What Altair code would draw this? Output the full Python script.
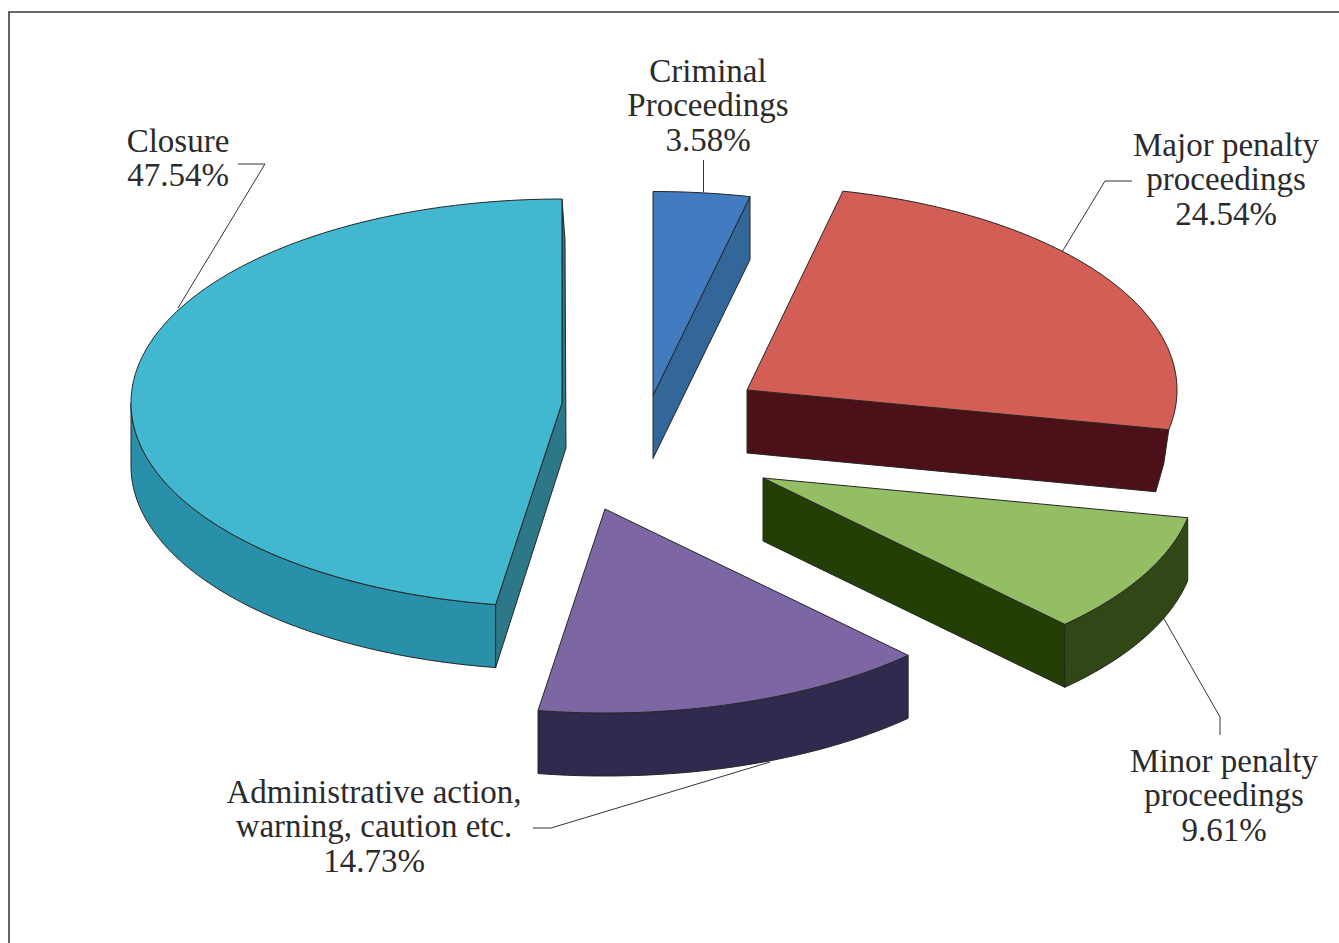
import numpy as np
import pandas as pd
import altair as alt

# Shares of the disposal outcomes, clockwise from twelve o'clock
names = ["Criminal", "Major", "Minor", "Admin", "Closure"]
shares = [3.58, 24.54, 9.61, 14.73, 47.54]
label_lines = [
    ["Criminal", "Proceedings"],
    ["Major penalty", "proceedings"],
    ["Minor penalty", "proceedings"],
    ["Administrative action,", "warning, caution etc."],
    ["Closure"],
]

# Pie geometry in canvas pixels
W, H = 1339, 943
RY, DEPTH = 204, 63
radius_x = {"Criminal": 435, "Major": 430, "Minor": 433, "Admin": 435, "Closure": 431}
centres = {"Criminal": (653, 395.5), "Major": (747, 390), "Minor": (763, 478),
           "Admin": (605, 509), "Closure": (562, 403)}
top_colour = {"Criminal": "#427BBF", "Major": "#D25E55", "Minor": "#93BE64",
              "Admin": "#7C67A4", "Closure": "#41B8D0"}
wall_colour = {"Criminal": "#336699", "Major": "#4C1018", "Minor": "#314816",
               "Admin": "#2F2A4E", "Closure": "#2890A8"}
cut_colour = {"Minor": "#243F06", "Closure": "#2C7888"}

label_anchor = {"Criminal": (708, 82), "Major": (1226, 156), "Minor": (1224, 772),
                "Admin": (374, 803), "Closure": (178, 152)}
LINE_STEP = 34.3

leaders = [
    [(703.5, 160), (703.5, 192)],
    [(1132, 181), (1105, 181), (1062, 252)],
    [(1163, 617), (1220, 717), (1220, 735)],
    [(770, 762), (551, 828), (533, 828)],
    [(238, 164), (265, 164), (178, 308)],
]

edges = np.cumsum([0] + shares) / 100 * 2 * np.pi
spans = {n: (edges[i], edges[i + 1]) for i, n in enumerate(names)}

X = alt.X("x:Q", scale=alt.Scale(domain=[0, W], range=[0, W], nice=False, zero=False), axis=None)
Y = alt.Y("y:Q", scale=alt.Scale(domain=[0, H], range=[0, H], nice=False, zero=False), axis=None)


def arc(name, a0, a1, drop=0.0):
    cx, cy = centres[name]
    count = max(3, int(abs(a1 - a0) * 60))
    t = np.linspace(a0, a1, count)
    return list(zip(cx + radius_x[name] * np.sin(t), cy + drop - RY * np.cos(t)))


def shape(points, fill, stroke="#262626", width=1.0):
    pts = list(points) + [points[0]]
    frame = pd.DataFrame({"x": [p[0] for p in pts], "y": [p[1] for p in pts], "i": range(len(pts))})
    return alt.Chart(frame).mark_line(
        fill=fill, stroke=stroke, strokeWidth=width, interpolate="linear", strokeJoin="miter"
    ).encode(x=X, y=Y, order="i:Q")


def polyline(points, colour="#333333", width=1.0):
    frame = pd.DataFrame({"x": [p[0] for p in points], "y": [p[1] for p in points], "i": range(len(points))})
    return alt.Chart(frame).mark_line(stroke=colour, strokeWidth=width).encode(x=X, y=Y, order="i:Q")


def top_face(name):
    a0, a1 = spans[name]
    return shape([centres[name]] + arc(name, a0, a1), top_colour[name])


def outer_wall(name, a0, a1):
    return shape(arc(name, a0, a1) + arc(name, a1, a0, DEPTH), wall_colour[name])


layers = []

# Page frame: top and left rules
layers.append(polyline([(9, H), (9, 12), (W, 12)], "#3c3c3c", 1.6))

# Leader lines sit behind the slices
for line in leaders:
    layers.append(polyline(line))

# Closure: outer wall, then the cut face running down the right side
a0, a1 = spans["Closure"]
layers.append(outer_wall("Closure", a0, 1.5 * np.pi))
c = np.array(centres["Closure"], float)
tip_top = arc("Closure", a1, a1)[0]
front = arc("Closure", a0, a0)[0]
layers.append(shape(
    [tip_top, (c[0] + 3, c[1] - 163), (c[0] + 4, c[1] + 45), (front[0], front[1] + DEPTH), front, tuple(c)],
    cut_colour["Closure"]))
layers.append(top_face("Closure"))

# Criminal proceedings: only the straight cut face shows
a0, a1 = spans["Criminal"]
c = centres["Criminal"]
e = arc("Criminal", a1, a1)[0]
layers.append(shape([c, e, (e[0], e[1] + DEPTH), (c[0], c[1] + DEPTH)], wall_colour["Criminal"]))
layers.append(top_face("Criminal"))

# Major penalty: front cut face whose far end bends inward
a0, a1 = spans["Major"]
c = centres["Major"]
e = arc("Major", a1, a1)[0]
layers.append(shape(
    [c, e, (e[0] - 5, e[1] + 34), (e[0] - 13, e[1] + DEPTH - 1), (c[0], c[1] + DEPTH)],
    wall_colour["Major"]))
layers.append(top_face("Major"))

# Minor penalty: cut face on the left, curved wall on the right
a0, a1 = spans["Minor"]
c = centres["Minor"]
e = arc("Minor", a1, a1)[0]
layers.append(shape([c, e, (e[0], e[1] + DEPTH), (c[0], c[1] + DEPTH)], cut_colour["Minor"]))
layers.append(outer_wall("Minor", a0, a1))
layers.append(top_face("Minor"))

# Administrative action: curved front wall only
a0, a1 = spans["Admin"]
layers.append(outer_wall("Admin", a0, a1))
layers.append(top_face("Admin"))

# Labels: category lines followed by the share
rows = []
for name, lines, share in zip(names, label_lines, shares):
    ax, ay = label_anchor[name]
    for k, text in enumerate(lines + [f"{share:.2f}%"]):
        rows.append({"x": ax, "y": ay + k * LINE_STEP, "text": text})
layers.append(
    alt.Chart(pd.DataFrame(rows)).mark_text(
        font="Liberation Serif", fontSize=33, color="#2b2b2b", align="center",
        baseline="alphabetic",
    ).encode(x=X, y=Y, text="text:N")
)

chart = alt.layer(*layers).properties(
    width=W, height=H, padding=0, background="white",
    autosize=alt.AutoSizeParams(type="none"),
).configure_view(stroke=None)

chart.save("out.html", embed_options={"renderer": "svg", "actions": False})
